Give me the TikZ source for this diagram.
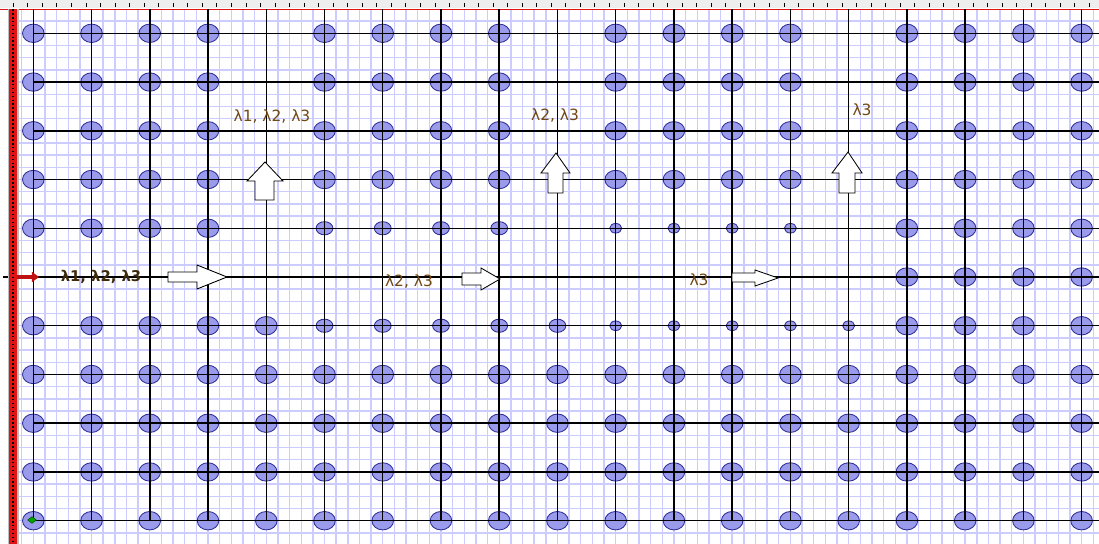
\documentclass[tikz,border=0pt]{standalone}
\usepackage{fontspec}
\setmainfont{DejaVu Sans}
\usetikzlibrary{arrows.meta, shapes.geometric}

\definecolor{gridblue}{RGB}{204,204,255}
\definecolor{dotfill}{RGB}{155,155,236}
\definecolor{dotline}{RGB}{45,45,150}
\definecolor{srcred}{RGB}{225,20,20}
\definecolor{rulergray}{RGB}{238,238,238}
\definecolor{bargray}{RGB}{190,190,190}
\definecolor{lblbrown}{RGB}{112,72,20}
\definecolor{lbldark}{RGB}{60,42,10}

\begin{document}
\begin{tikzpicture}[
    x=0.025cm, y=-0.025cm,
    minor/.style={draw=gridblue, line width=1pt},
    lattice/.style={draw=black, line width=1.05pt},
    bigdot/.style={
        ellipse, draw=dotline, fill=dotfill, line width=0.6pt,
        minimum width=0.54cm, minimum height=0.46cm, inner sep=0pt
    },
    middot/.style={bigdot, minimum width=0.42cm, minimum height=0.33cm},
    smalldot/.style={bigdot, minimum width=0.3cm, minimum height=0.24cm},
    hollow/.style={draw=black, fill=white, line width=0.6pt},
    lbl/.style={font=\fontsize{11}{13}\selectfont, text=lblbrown, inner sep=0pt},
    srclbl/.style={lbl, font=\fontsize{10.5}{13}\selectfont\bfseries, text=lbldark},
    srcarr/.style={draw=srcred!85!black, line width=2.2pt, -{Triangle[length=5pt, width=7pt]}}
]
\useasboundingbox (0,0) rectangle (1099,544);
\fill[white] (0,0) rectangle (1099,544);

% Minor grid
\foreach \k in {-1,...,92}
    \draw[minor] ({33.3+11.648*\k},9) -- ({33.3+11.648*\k},544);
\foreach \m in {-1,...,42}
    \draw[minor] (18,{33.3+12.185*\m}) -- (1099,{33.3+12.185*\m});

% Ruler
\fill[rulergray] (0,0) rectangle (1099,8.5);
\foreach \k in {0,...,75}
    \draw[black, line width=0.6pt] ({13.3+14.54*\k},3.5) -- ({13.3+14.54*\k},7);
\draw[srcred, line width=0.7pt] (0,9) -- (1099,9);

% Dots
\foreach \j in {0,...,3}
    \foreach \i in {0,1,2,3,5,6,7,8,10,11,12,13,15,16,17,18}
        \node[bigdot] (d\i-\j) at ({33.3+58.24*\i},{33.3+48.74*\j}) {};
\foreach \i in {0,1,2,3,15,16,17,18}
    \node[bigdot] (d\i-4) at ({33.3+58.24*\i},{33.3+48.74*4}) {};
\foreach \i in {5,...,8}
    \node[middot] (d\i-4) at ({33.3+58.24*\i},{33.3+48.74*4}) {};
\foreach \i in {10,...,13}
    \node[smalldot] (d\i-4) at ({33.3+58.24*\i},{33.3+48.74*4}) {};
\foreach \i in {15,...,18}
    \node[bigdot] (d\i-5) at ({33.3+58.24*\i},{33.3+48.74*5}) {};
\foreach \i in {0,...,4,15,16,17,18}
    \node[bigdot] (d\i-6) at ({33.3+58.24*\i},{33.3+48.74*6}) {};
\foreach \i in {5,...,9}
    \node[middot] (d\i-6) at ({33.3+58.24*\i},{33.3+48.74*6}) {};
\foreach \i in {10,...,14}
    \node[smalldot] (d\i-6) at ({33.3+58.24*\i},{33.3+48.74*6}) {};
\foreach \j in {7,...,10}
    \foreach \i in {0,...,18}
        \node[bigdot] (d\i-\j) at ({33.3+58.24*\i},{33.3+48.74*\j}) {};

% Lattice lines
\foreach \j in {0,...,4,6,7,8,9,10}
    \draw[lattice] (33.3,{33.3+48.74*\j}) -- (1099,{33.3+48.74*\j});
\draw[lattice] (3,277) -- (1099,277);
\foreach \i in {0,...,18}
    \draw[lattice] ({33.3+58.24*\i},9) -- ({33.3+58.24*\i},520.7);

% Start point
\node[diamond, fill=green!65!black, draw=green!35!black, line width=0.4pt,
      minimum width=0.22cm, minimum height=0.17cm, inner sep=0pt] (start) at (32,520) {};

% Hollow arrows
\draw[hollow] (168,272) -- (197,272) -- (197,265) -- (227,277) -- (197,289) -- (197,282) -- (168,282) -- cycle;
\draw[hollow] (462,273) -- (481,273) -- (481,268) -- (500,279) -- (481,290) -- (481,285) -- (462,285) -- cycle;
\draw[hollow] (732,273) -- (755,273) -- (755,270) -- (778,278) -- (755,286) -- (755,282) -- (732,282) -- cycle;
\draw[hollow] (255,200) -- (255,181) -- (247,181) -- (265,162) -- (283,181) -- (274,181) -- (274,200) -- cycle;
\draw[hollow] (548,193) -- (548,173) -- (541,173) -- (556,153) -- (570,173) -- (563,173) -- (563,193) -- cycle;
\draw[hollow] (839,193) -- (839,173) -- (832,173) -- (848,152) -- (862,173) -- (855,173) -- (855,193) -- cycle;

% Labels
\node[srclbl] (l0) at (101,277) {λ1, λ2, λ3};
\node[lbl] (l1) at (272,117) {λ1, λ2, λ3};
\node[lbl] (l2) at (555,116) {λ2, λ3};
\node[lbl] (l3) at (862,110) {λ3};
\node[lbl] (l4) at (409,282) {λ2, λ3};
\node[lbl] (l5) at (699,280) {λ3};

% Source bar
\fill[bargray] (7.5,9) rectangle (18.5,544);
\fill[srcred] (9,9) rectangle (17,544);
\draw[black, line width=0.9pt, dash pattern=on 1.2pt off 1.6pt] (13,9) -- (13,544);
\coordinate (feed) at (17,277);
\coordinate (feedtip) at (39,277);
\draw[srcarr] (feed) -- (feedtip);

\end{tikzpicture}
\end{document}
